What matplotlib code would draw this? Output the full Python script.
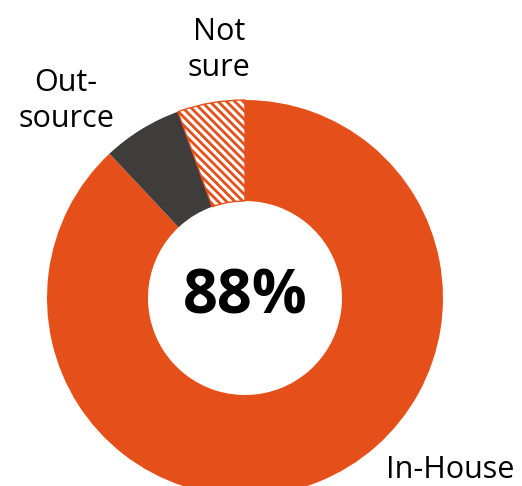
import matplotlib.pyplot as plt

labels = ["In-House", "Out-\nsource", "Not\nsure"]
values = [88, 6.5, 5.5]
center_text = "88%"

orange = "#E5501A"
dark = "#3F3C3C"

plt.rcParams["font.family"] = ["Open Sans", "DejaVu Sans"]
plt.rcParams["hatch.linewidth"] = 2.0

fig = plt.figure(figsize=(5.22, 4.86), dpi=100)
ax = fig.add_axes([0, 0, 1, 1])
ax.set_xlim(0, 522)
ax.set_ylim(0, 486)
ax.set_aspect("equal")
ax.axis("off")

wedges, _ = ax.pie(values, startangle=90, counterclock=False,
                   center=(245, 188), radius=198,
                   colors=[orange, dark, "white"],
                   wedgeprops=dict(width=101, linewidth=0))
wedges[2].set_edgecolor(orange)
wedges[2].set_linewidth(1)
wedges[2].set_hatch("\\\\\\\\")
ax.set_xlim(0, 522)
ax.set_ylim(0, 486)

ax.text(245, 188, center_text, ha="center", va="center",
        fontsize=44, fontweight="bold", color="black")
ax.text(219, 436, labels[2], ha="center", va="center", fontsize=22,
        linespacing=1.3)
ax.text(66, 385, labels[1], ha="center", va="center", fontsize=22,
        linespacing=1.3)
ax.text(386, 16, labels[0], ha="left", va="center", fontsize=22)

fig.savefig("out.png", dpi=100)
